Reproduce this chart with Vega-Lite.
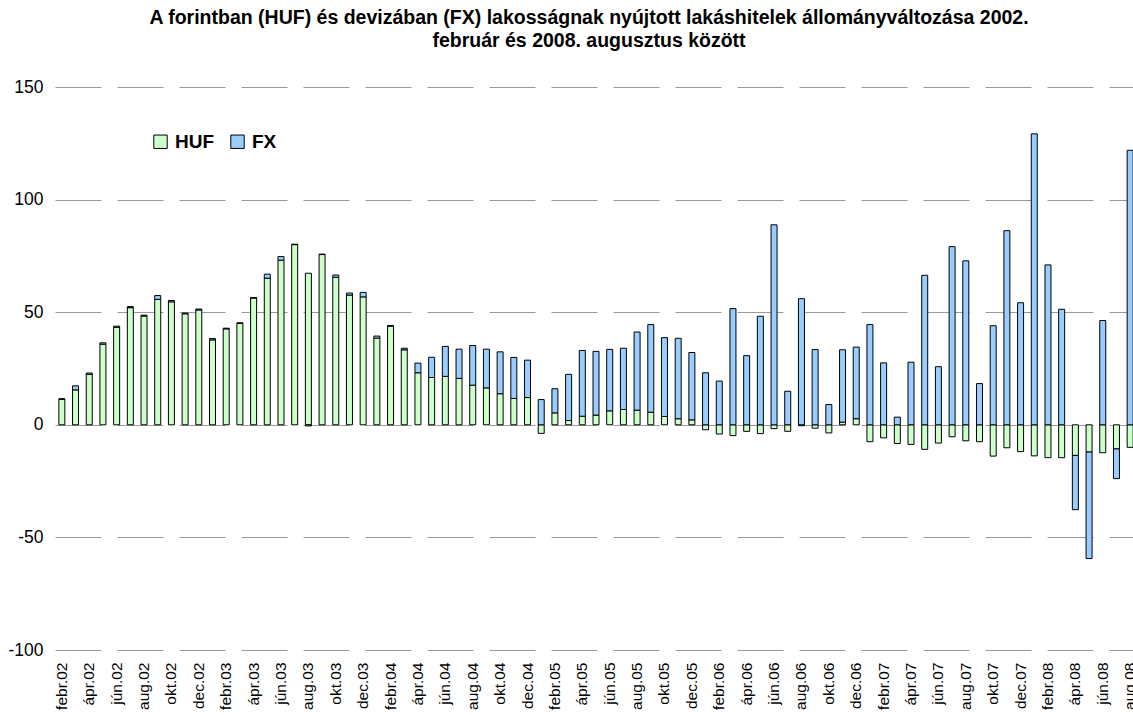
{
  "$schema": "https://vega.github.io/schema/vega-lite/v6.json",
  "autosize": "none",
  "width": 1082,
  "height": 563,
  "padding": {"left": 55, "top": 87, "right": 0, "bottom": 65},
  "background": "white",
  "config": {
    "font": "Liberation Sans",
    "view": {"stroke": null},
    "axis": {"labelColor": "black", "labelFont": "Liberation Sans"}
  },
  "title": {
    "text": ["A forintban (HUF) és devizában (FX) lakosságnak nyújtott lakáshitelek állományváltozása 2002.", "február és 2008. augusztus között"],
    "fontSize": 19.5,
    "fontWeight": "bold",
    "font": "Liberation Sans",
    "color": "black",
    "anchor": "middle",
    "lineHeight": 23,
    "offset": 27,
    "dx": -7
  },
  "data": {"values": [
    {"m": "febr.02", "s": "HUF", "v": 11.3}, {"m": "febr.02", "s": "FX", "v": 0.3},
    {"m": "márc.02", "s": "HUF", "v": 15.5}, {"m": "márc.02", "s": "FX", "v": 1.8},
    {"m": "ápr.02", "s": "HUF", "v": 22.4}, {"m": "ápr.02", "s": "FX", "v": 0.6},
    {"m": "máj.02", "s": "HUF", "v": 35.8}, {"m": "máj.02", "s": "FX", "v": 0.6},
    {"m": "jún.02", "s": "HUF", "v": 43.3}, {"m": "jún.02", "s": "FX", "v": 0.5},
    {"m": "júl.02", "s": "HUF", "v": 52.0}, {"m": "júl.02", "s": "FX", "v": 0.5},
    {"m": "aug.02", "s": "HUF", "v": 48.3}, {"m": "aug.02", "s": "FX", "v": 0.4},
    {"m": "szept.02", "s": "HUF", "v": 55.7}, {"m": "szept.02", "s": "FX", "v": 1.7},
    {"m": "okt.02", "s": "HUF", "v": 54.6}, {"m": "okt.02", "s": "FX", "v": 0.6},
    {"m": "nov.02", "s": "HUF", "v": 49.3}, {"m": "nov.02", "s": "FX", "v": 0.3},
    {"m": "dec.02", "s": "HUF", "v": 51.0}, {"m": "dec.02", "s": "FX", "v": 0.4},
    {"m": "jan.03", "s": "HUF", "v": 37.7}, {"m": "jan.03", "s": "FX", "v": 0.6},
    {"m": "febr.03", "s": "HUF", "v": 42.6}, {"m": "febr.03", "s": "FX", "v": 0.3},
    {"m": "márc.03", "s": "HUF", "v": 45.0}, {"m": "márc.03", "s": "FX", "v": 0.3},
    {"m": "ápr.03", "s": "HUF", "v": 56.3}, {"m": "ápr.03", "s": "FX", "v": 0.2},
    {"m": "máj.03", "s": "HUF", "v": 65.1}, {"m": "máj.03", "s": "FX", "v": 1.8},
    {"m": "jún.03", "s": "HUF", "v": 73.1}, {"m": "jún.03", "s": "FX", "v": 1.6},
    {"m": "júl.03", "s": "HUF", "v": 80.0}, {"m": "júl.03", "s": "FX", "v": 0.2},
    {"m": "aug.03", "s": "HUF", "v": 67.3}, {"m": "aug.03", "s": "FX", "v": -0.5},
    {"m": "szept.03", "s": "HUF", "v": 75.6}, {"m": "szept.03", "s": "FX", "v": 0.2},
    {"m": "okt.03", "s": "HUF", "v": 65.5}, {"m": "okt.03", "s": "FX", "v": 1.0},
    {"m": "nov.03", "s": "HUF", "v": 57.6}, {"m": "nov.03", "s": "FX", "v": 0.9},
    {"m": "dec.03", "s": "HUF", "v": 56.8}, {"m": "dec.03", "s": "FX", "v": 2.0},
    {"m": "jan.04", "s": "HUF", "v": 38.5}, {"m": "jan.04", "s": "FX", "v": 0.9},
    {"m": "febr.04", "s": "HUF", "v": 43.8}, {"m": "febr.04", "s": "FX", "v": 0.3},
    {"m": "márc.04", "s": "HUF", "v": 33.3}, {"m": "márc.04", "s": "FX", "v": 0.7},
    {"m": "ápr.04", "s": "HUF", "v": 23.1}, {"m": "ápr.04", "s": "FX", "v": 4.3},
    {"m": "máj.04", "s": "HUF", "v": 21.0}, {"m": "máj.04", "s": "FX", "v": 9.0},
    {"m": "jún.04", "s": "HUF", "v": 21.5}, {"m": "jún.04", "s": "FX", "v": 13.3},
    {"m": "júl.04", "s": "HUF", "v": 20.6}, {"m": "júl.04", "s": "FX", "v": 13.0},
    {"m": "aug.04", "s": "HUF", "v": 17.6}, {"m": "aug.04", "s": "FX", "v": 17.6},
    {"m": "szept.04", "s": "HUF", "v": 16.4}, {"m": "szept.04", "s": "FX", "v": 17.2},
    {"m": "okt.04", "s": "HUF", "v": 13.8}, {"m": "okt.04", "s": "FX", "v": 18.6},
    {"m": "nov.04", "s": "HUF", "v": 11.7}, {"m": "nov.04", "s": "FX", "v": 18.2},
    {"m": "dec.04", "s": "HUF", "v": 12.1}, {"m": "dec.04", "s": "FX", "v": 16.6},
    {"m": "jan.05", "s": "HUF", "v": -3.8}, {"m": "jan.05", "s": "FX", "v": 11.2},
    {"m": "febr.05", "s": "HUF", "v": 5.3}, {"m": "febr.05", "s": "FX", "v": 10.7},
    {"m": "márc.05", "s": "HUF", "v": 1.9}, {"m": "márc.05", "s": "FX", "v": 20.5},
    {"m": "ápr.05", "s": "HUF", "v": 3.8}, {"m": "ápr.05", "s": "FX", "v": 29.2},
    {"m": "máj.05", "s": "HUF", "v": 4.3}, {"m": "máj.05", "s": "FX", "v": 28.3},
    {"m": "jún.05", "s": "HUF", "v": 6.2}, {"m": "jún.05", "s": "FX", "v": 27.3},
    {"m": "júl.05", "s": "HUF", "v": 6.8}, {"m": "júl.05", "s": "FX", "v": 27.2},
    {"m": "aug.05", "s": "HUF", "v": 6.5}, {"m": "aug.05", "s": "FX", "v": 34.7},
    {"m": "szept.05", "s": "HUF", "v": 5.6}, {"m": "szept.05", "s": "FX", "v": 38.9},
    {"m": "okt.05", "s": "HUF", "v": 3.7}, {"m": "okt.05", "s": "FX", "v": 35.0},
    {"m": "nov.05", "s": "HUF", "v": 2.7}, {"m": "nov.05", "s": "FX", "v": 35.7},
    {"m": "dec.05", "s": "HUF", "v": 2.2}, {"m": "dec.05", "s": "FX", "v": 29.9},
    {"m": "jan.06", "s": "HUF", "v": -2.2}, {"m": "jan.06", "s": "FX", "v": 23.1},
    {"m": "febr.06", "s": "HUF", "v": -4.1}, {"m": "febr.06", "s": "FX", "v": 19.4},
    {"m": "márc.06", "s": "HUF", "v": -4.8}, {"m": "márc.06", "s": "FX", "v": 51.6},
    {"m": "ápr.06", "s": "HUF", "v": -2.9}, {"m": "ápr.06", "s": "FX", "v": 30.7},
    {"m": "máj.06", "s": "HUF", "v": -3.9}, {"m": "máj.06", "s": "FX", "v": 48.2},
    {"m": "jún.06", "s": "HUF", "v": -1.7}, {"m": "jún.06", "s": "FX", "v": 88.8},
    {"m": "júl.06", "s": "HUF", "v": -2.9}, {"m": "júl.06", "s": "FX", "v": 14.9},
    {"m": "aug.06", "s": "HUF", "v": -0.4}, {"m": "aug.06", "s": "FX", "v": 56.0},
    {"m": "szept.06", "s": "HUF", "v": -1.5}, {"m": "szept.06", "s": "FX", "v": 33.4},
    {"m": "okt.06", "s": "HUF", "v": -3.6}, {"m": "okt.06", "s": "FX", "v": 9.0},
    {"m": "nov.06", "s": "HUF", "v": 1.2}, {"m": "nov.06", "s": "FX", "v": 32.1},
    {"m": "dec.06", "s": "HUF", "v": 2.7}, {"m": "dec.06", "s": "FX", "v": 31.8},
    {"m": "jan.07", "s": "HUF", "v": -7.5}, {"m": "jan.07", "s": "FX", "v": 44.5},
    {"m": "febr.07", "s": "HUF", "v": -5.8}, {"m": "febr.07", "s": "FX", "v": 27.5},
    {"m": "márc.07", "s": "HUF", "v": -8.3}, {"m": "márc.07", "s": "FX", "v": 3.4},
    {"m": "ápr.07", "s": "HUF", "v": -8.7}, {"m": "ápr.07", "s": "FX", "v": 27.8},
    {"m": "máj.07", "s": "HUF", "v": -10.9}, {"m": "máj.07", "s": "FX", "v": 66.4},
    {"m": "jún.07", "s": "HUF", "v": -8.1}, {"m": "jún.07", "s": "FX", "v": 25.8},
    {"m": "júl.07", "s": "HUF", "v": -5.3}, {"m": "júl.07", "s": "FX", "v": 79.1},
    {"m": "aug.07", "s": "HUF", "v": -7.1}, {"m": "aug.07", "s": "FX", "v": 72.8},
    {"m": "szept.07", "s": "HUF", "v": -7.5}, {"m": "szept.07", "s": "FX", "v": 18.3},
    {"m": "okt.07", "s": "HUF", "v": -13.9}, {"m": "okt.07", "s": "FX", "v": 44.0},
    {"m": "nov.07", "s": "HUF", "v": -10.2}, {"m": "nov.07", "s": "FX", "v": 86.2},
    {"m": "dec.07", "s": "HUF", "v": -11.9}, {"m": "dec.07", "s": "FX", "v": 54.2},
    {"m": "jan.08", "s": "HUF", "v": -13.8}, {"m": "jan.08", "s": "FX", "v": 129.2},
    {"m": "febr.08", "s": "HUF", "v": -14.6}, {"m": "febr.08", "s": "FX", "v": 71.0},
    {"m": "márc.08", "s": "HUF", "v": -14.6}, {"m": "márc.08", "s": "FX", "v": 51.3},
    {"m": "ápr.08", "s": "HUF", "v": -13.6}, {"m": "ápr.08", "s": "FX", "v": -24.1},
    {"m": "máj.08", "s": "HUF", "v": -12.1}, {"m": "máj.08", "s": "FX", "v": -47.3},
    {"m": "jún.08", "s": "HUF", "v": -12.4}, {"m": "jún.08", "s": "FX", "v": 46.3},
    {"m": "júl.08", "s": "HUF", "v": -10.7}, {"m": "júl.08", "s": "FX", "v": -13.2},
    {"m": "aug.08", "s": "HUF", "v": -10.0}, {"m": "aug.08", "s": "FX", "v": 121.9}
  ]},
  "encoding": {
    "x": {
      "field": "m",
      "type": "nominal",
      "sort": null,
      "title": null,
      "scale": {"paddingInner": 0, "paddingOuter": 0},
      "axis": {
        "values": ["febr.02", "ápr.02", "jún.02", "aug.02", "okt.02", "dec.02", "febr.03", "ápr.03", "jún.03", "aug.03", "okt.03", "dec.03", "febr.04", "ápr.04", "jún.04", "aug.04", "okt.04", "dec.04", "febr.05", "ápr.05", "jún.05", "aug.05", "okt.05", "dec.05", "febr.06", "ápr.06", "jún.06", "aug.06", "okt.06", "dec.06", "febr.07", "ápr.07", "jún.07", "aug.07", "okt.07", "dec.07", "febr.08", "ápr.08", "jún.08", "aug.08"],
        "labelAngle": -90,
        "labelFontSize": 15.5,
        "labelPadding": 12,
        "labelAlign": "right",
        "labelBaseline": "middle",
        "ticks": false,
        "domain": false,
        "grid": false
      }
    }
  },
  "layer": [
    {
      "mark": {"type": "bar", "size": 6, "stroke": "black", "strokeWidth": 1},
      "encoding": {
        "y": {
          "field": "v",
          "type": "quantitative",
          "stack": "zero",
          "title": null,
          "scale": {"domain": [-100, 150], "nice": false},
          "axis": {
            "values": [-100, -50, 0, 50, 100, 150],
            "labelExpr": "'' + datum.value",
            "labelFontSize": 17.5,
            "labelPadding": 12,
            "ticks": false,
            "domain": false,
            "grid": true,
            "gridColor": "#9a9a9a",
            "gridWidth": 1,
            "gridDash": [46, 16]
          }
        },
        "color": {
          "field": "s",
          "type": "nominal",
          "sort": ["HUF", "FX"],
          "scale": {"domain": ["HUF", "FX"], "range": ["#CCFFCC", "#99CCFF"]},
          "legend": {
            "title": null,
            "orient": "none",
            "legendX": 96,
            "legendY": 45,
            "direction": "horizontal",
            "symbolType": "square",
            "symbolSize": 180,
            "symbolStrokeColor": "black",
            "symbolStrokeWidth": 1,
            "symbolOpacity": 1,
            "labelFontSize": 19,
            "labelFontWeight": "bold",
            "labelColor": "black",
            "labelOffset": 5,
            "columnPadding": 13
          }
        }
      }
    },
    {
      "mark": {"type": "rule", "color": "black", "strokeWidth": 1},
      "encoding": {"y": {"datum": 0}}
    }
  ]
}
